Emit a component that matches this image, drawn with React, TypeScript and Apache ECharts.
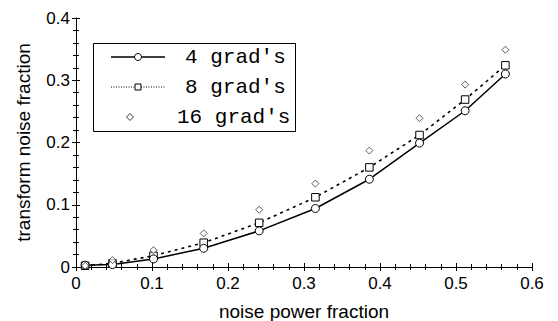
import React, { useEffect, useRef } from "react";
import * as echarts from "echarts";

const xValues = [0.012, 0.048, 0.102, 0.168, 0.241, 0.315, 0.386, 0.452, 0.512, 0.565];
const grad4 = [0.003, 0.004, 0.013, 0.030, 0.058, 0.094, 0.141, 0.199, 0.251, 0.310];
const grad8 = [0.002, 0.006, 0.018, 0.039, 0.071, 0.112, 0.160, 0.212, 0.269, 0.324];
const grad16 = [0.002, 0.011, 0.027, 0.054, 0.092, 0.134, 0.187, 0.239, 0.293, 0.349];
const seriesNames = ["4 grad's", "8 grad's", "16 grad's"];

const pairs = (ys: number[]) => xValues.map((x, i) => [x, ys[i]]);

export default function App() {
  const ref = useRef<HTMLDivElement>(null);
  useEffect(() => {
    if (!ref.current) return;
    const chart = echarts.init(ref.current, null, { renderer: "svg" });
    const axisCommon = {
      type: "value" as const,
      axisLine: { show: true, lineStyle: { color: "#000", width: 1 } },
      axisTick: { show: true, inside: true, length: 4, lineStyle: { color: "#000" } },
      minorTick: { show: true, splitNumber: 5, length: 3, lineStyle: { color: "#000" } },
      splitLine: { show: false },
    };
    const labelStyle = { color: "#000", fontFamily: "Liberation Sans, Arial", fontSize: 17 };
    const nameStyle = { color: "#000", fontFamily: "Liberation Sans, Arial", fontSize: 19 };
    const legendY = [57, 87, 117];
    const lx1 = 111, lx2 = 165, lmid = 138;
    const textFont = { fontFamily: "Liberation Mono, Courier New, monospace", fontSize: 21, fill: "#000" };
    chart.setOption({
      animation: false,
      grid: { left: 76, right: 26, top: 18, bottom: 54, containLabel: false, outerBoundsMode: "none" },
      xAxis: [
        {
          ...axisCommon,
          position: "bottom",
          min: 0,
          max: 0.6,
          interval: 0.1,
          axisLabel: { ...labelStyle, margin: 8 },
          name: "noise power fraction",
          nameLocation: "middle",
          nameGap: 35,
          nameTextStyle: nameStyle,
        },
        {
          ...axisCommon,
          position: "top",
          min: 0,
          max: 0.6,
          interval: 0.1,
          axisLabel: { show: false },
        },
      ],
      yAxis: [
        {
          ...axisCommon,
          position: "left",
          min: 0,
          max: 0.4,
          interval: 0.1,
          axisLabel: { ...labelStyle, margin: 6 },
          name: "transform noise fraction",
          nameLocation: "middle",
          nameGap: 43,
          nameTextStyle: nameStyle,
        },
        {
          ...axisCommon,
          position: "right",
          min: 0,
          max: 0.4,
          interval: 0.1,
          axisLabel: { show: false },
        },
      ],
      series: [
        {
          name: seriesNames[0],
          type: "line",
          data: pairs(grad4),
          symbol: "circle",
          symbolSize: 8,
          showAllSymbol: true,
          lineStyle: { color: "#000", width: 1.5 },
          itemStyle: { color: "#fff", borderColor: "#000", borderWidth: 1 },
          z: 3,
        },
        {
          name: seriesNames[1],
          type: "line",
          data: pairs(grad8),
          symbol: "rect",
          symbolSize: 7.5,
          showAllSymbol: true,
          lineStyle: { color: "#000", width: 1.6, type: [3, 4] },
          itemStyle: { color: "#fff", borderColor: "#000", borderWidth: 1 },
          z: 2,
        },
        {
          name: seriesNames[2],
          type: "scatter",
          data: pairs(grad16),
          symbol: "diamond",
          symbolSize: 7,
          itemStyle: { color: "#fff", borderColor: "#000", borderWidth: 0.8 },
          z: 4,
        },
      ],
      graphic: [
        {
          type: "rect",
          shape: { x: 93.5, y: 43.5, width: 202, height: 88 },
          style: { fill: "#fff", stroke: "#000", lineWidth: 1 },
          z: 10,
        },
        {
          type: "line",
          shape: { x1: lx1, y1: legendY[0], x2: lx2, y2: legendY[0] },
          style: { stroke: "#000", lineWidth: 1.5 },
          z: 11,
        },
        {
          type: "circle",
          shape: { cx: lmid, cy: legendY[0], r: 3.5 },
          style: { fill: "#fff", stroke: "#000", lineWidth: 1 },
          z: 12,
        },
        {
          type: "line",
          shape: { x1: lx1, y1: legendY[1], x2: lx2, y2: legendY[1] },
          style: { stroke: "#000", lineWidth: 1, lineDash: [1, 1.5] },
          z: 11,
        },
        {
          type: "rect",
          shape: { x: lmid - 3, y: legendY[1] - 3, width: 6, height: 6 },
          style: { fill: "#fff", stroke: "#000", lineWidth: 1 },
          z: 12,
        },
        {
          type: "polygon",
          shape: {
            points: [
              [130, legendY[2] - 3.5],
              [133.5, legendY[2]],
              [130, legendY[2] + 3.5],
              [126.5, legendY[2]],
            ],
          },
          style: { fill: "#fff", stroke: "#000", lineWidth: 0.8 },
          z: 12,
        },
        {
          type: "text",
          x: 185,
          y: legendY[0],
          style: { text: seriesNames[0], ...textFont, verticalAlign: "middle", align: "left" },
          z: 12,
        },
        {
          type: "text",
          x: 185,
          y: legendY[1],
          style: { text: seriesNames[1], ...textFont, verticalAlign: "middle", align: "left" },
          z: 12,
        },
        {
          type: "text",
          x: 177,
          y: legendY[2],
          style: { text: seriesNames[2], ...textFont, verticalAlign: "middle", align: "left" },
          z: 12,
        },
      ],
    });
    return () => chart.dispose();
  }, []);
  return <div ref={ref} style={{ width: 558, height: 321, position: "absolute", left: 0, top: 0 }} />;
}
